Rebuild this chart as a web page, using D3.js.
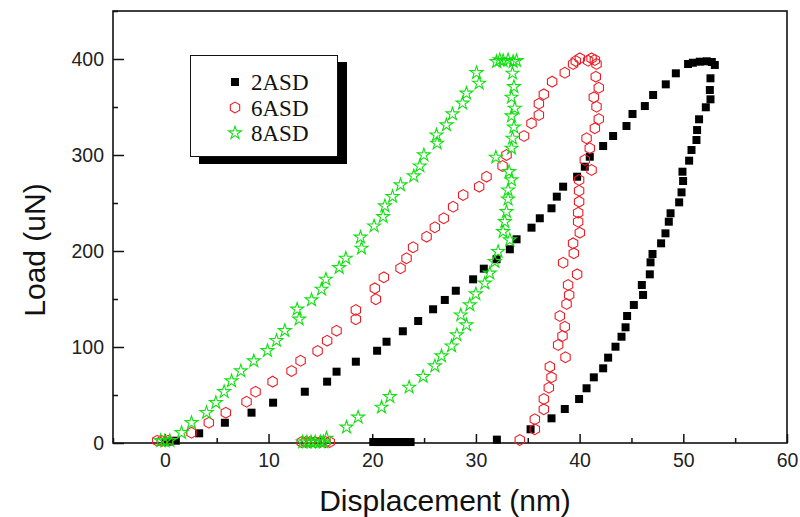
<!DOCTYPE html>
<html><head><meta charset="utf-8">
<script src="https://cdn.jsdelivr.net/npm/d3@7"></script>
<style>body{margin:0;background:#fff}svg{display:block}</style>
</head><body>
<svg id="c" width="800" height="517"></svg>
<script>
const seriesNames = ["2ASD", "6ASD", "8ASD"];
const xTicks = [0, 10, 20, 30, 40, 50, 60];
const yTicks = [0, 100, 200, 300, 400];
const xLabel = "Displacement (nm)";
const yLabel = "Load (uN)";

// 2ASD: loading, unloading, drift at zero
const data2ASD = [
[0.1,1],[0.5,1.5],[1.06,2.4],[3.31,10.1],[5.79,21.1],[8.36,31.6],[10.44,42],[13.5,53.4],[15.65,63.9],[16.56,74.3],
[18.42,84.7],[20.47,96.1],[21.38,105.5],[22.95,116.4],[24.43,127.1],[25.87,139.3],[27.0,149],[28.06,158.6],[29.73,170.5],
[30.76,181.6],[31.99,191.4],[33.27,201.8],[33.92,212.2],[35.36,224.3],[36.16,234.1],[37.29,244.5],[37.8,256.6],[38.41,267],
[39.76,277.4],[40.5,287.8],[40.98,298.2],[42.27,309.4],[43.23,319.8],[44.52,330.2],[45.1,342.7],[46.29,351],[47.09,362.5],
[48.31,373.6],[49.28,385.1],[50.46,394.8],[50.92,396.1],[51.59,397.2],[52.27,397.6],[52.75,396.9],[53.04,393.8],
[52.62,379.9],[52.56,367.7],[52.62,358],[52.17,349.7],[51.52,337.2],[51.33,326],[51.27,315.6],[50.79,305.2],[50.56,294.1],
[49.92,282.6],[49.98,272.9],[49.83,261.1],[49.6,250.7],[48.77,239.3],[48.6,230.5],[48.28,218.4],[47.86,208],[47.03,196.9],
[46.84,188.2],[46.77,175.7],[46,164.6],[46.12,154.2],[45.23,143.8],[44.58,132.3],[44.43,120.5],[44.04,110.7],[43.46,100.3],
[42.75,88.9],[42.27,77.8],[41.37,68.4],[40.67,57],[39.95,45.8],[38.57,35.4],[37.29,25.7],[35.27,14.3],[32.02,3.5],
[20.1,1],[20.5,1],[20.9,1],[21.3,1],[21.7,1],[22.1,1],[22.5,1],[22.9,1],[23.3,1],[23.7,1]
];

// 6ASD
const data6ASD = [
[-0.74,2.4],[-0.29,2.1],[0.32,2.4],[2.57,10.7],[4.24,21.1],[5.88,31.6],[7.88,43],[8.75,53.4],[10.39,63.9],[12.22,75],
[13.09,85.7],[14.73,95.8],[15.65,106.6],[16.56,117],[18.42,128.9],[18.42,138.5],[20.35,149.7],[20.25,161.1],[21.12,172.6],
[22.73,182],[23.31,192.4],[23.94,203.9],[25.24,214.9],[26.04,224.7],[26.9,234.1],[27.8,246.1],[28.77,258.3],[30.31,267],
[31.02,277.4],[32.57,288.5],[32.95,300],[34.64,319.8],[35.36,333],[36.07,341.7],[36.07,353.4],[36.55,363.2],[37.35,376.4],
[38.57,385.7],[39.37,394.8],[39.63,397.9],[40.02,400.7],[40.82,398.2],[41.15,400.7],[41.47,399],[41.63,394.8],
[41.56,381.6],[41.85,370.1],[41.37,360.1],[41.63,350.3],[41.85,337.5],[41.47,327.8],[40.67,317.4],[40.98,307],[40.5,294.8],
[41.15,284.4],[39.95,274],[39.95,262.8],[39.95,251.4],[39.86,239.9],[39.86,230.5],[40.02,219.1],[39.37,208],[39.44,197.6],
[38.41,187.8],[39.76,175.7],[38.89,164.6],[38.99,154.2],[38.74,144.8],[38.09,132.3],[38.57,121.1],[38.35,111.5],[37.93,102.1],
[38.64,89.3],[37.13,79.5],[37.29,68.4],[37.03,57.6],[36.55,45.8],[36.55,35.1],[35.68,24.7],[35.68,14.3],[34.23,3.1],
[13.2,1],[13.6,1],[14.0,1],[14.5,1],[15.0,1],[15.5,1],[15.9,1]
];

// 8ASD
const data8ASD = [
[-0.41,2.4],[0,2.1],[0.48,2.4],[1.61,10.7],[2.57,21.1],[4.02,31.6],[4.92,42],[5.72,53.4],[6.43,64.6],[7.33,75],[8.58,85.4],
[9.9,96.1],[10.77,106.6],[11.57,117],[12.95,128.9],[12.76,139.3],[14.15,149],[15.11,160.1],[15.53,170.5],[16.81,182.6],
[17.45,192.4],[18.97,202.8],[18.87,214.3],[20.18,226],[21.05,235.7],[21.22,246.9],[21.96,256.6],[22.73,268.8],[24.01,278.1],
[24.59,288.5],[24.98,300],[26.26,312.2],[26.2,320.8],[27.16,331.3],[27.74,342.7],[28.71,353.9],[29.09,364.3],[30.31,374.7],
[30.06,385.7],[31.99,397.2],[32.3,399],[32.62,398.2],[33.1,399],[33.59,397.2],[33.92,398.2],
[33.53,385.1],[33.66,371.1],[33.43,360.1],[33.75,348.6],[33.43,340.6],[33.66,328.9],[33.53,317.4],[33.43,307],[31.92,297.6],
[33.2,282.6],[33.43,274],[33.1,263.5],[33.1,253.9],[32.95,240.9],[32.79,230.5],[32.62,220.1],[33.27,211.5],[32.14,199.3],
[31.82,188.9],[31.34,176.8],[30.86,166.4],[29.99,155.2],[29.41,143.8],[28.54,133.3],[29.09,122.9],[28.16,112.5],[27.65,101],
[26.68,90.6],[26.04,80.2],[24.91,69.1],[23.56,58],[21.7,48.2],[20.9,37.2],[18.64,26.8],[17.52,16.4],[15.59,4.9],
[13.3,1],[13.7,1],[14.1,1],[14.5,1],[15.0,1],[15.3,1]
];

const svg = d3.select("#c");
const x = d3.scaleLinear().domain([-5, 60]).range([113, 787]);
const y = d3.scaleLinear().domain([0, 450]).range([443, 11]);

const RED = "#ee1c24", GREEN = "#11e011";

function hexPath(r) {
  const pts = d3.range(6).map(i => {
    const a = Math.PI / 2 + i * Math.PI / 3;
    return [r * Math.cos(a), r * Math.sin(a)];
  });
  return "M" + pts.map(p => p.join(",")).join("L") + "Z";
}
const squareSym = d3.symbol().type(d3.symbolSquare).size(64)();
const starSym = d3.symbol().type(d3.symbolStar).size(52)();
const hexSym = hexPath(5.4);

// axes (inward ticks)
const gx = svg.append("g").attr("transform", `translate(0,${y(0)})`);
gx.call(d3.axisBottom(x).tickValues(d3.range(-5, 61, 5).filter(v => v % 10 !== 0)).tickSize(-5).tickFormat(""));
const gx2 = svg.append("g").attr("transform", `translate(0,${y(0)})`);
gx2.call(d3.axisBottom(x).tickValues(xTicks).tickSize(-9).tickPadding(20).tickFormat(d3.format("d")));
const gy = svg.append("g").attr("transform", `translate(${x(-5)},0)`);
gy.call(d3.axisLeft(y).tickValues(d3.range(50, 451, 100)).tickSize(-5).tickFormat(""));
const gy2 = svg.append("g").attr("transform", `translate(${x(-5)},0)`);
gy2.call(d3.axisLeft(y).tickValues(yTicks).tickSize(-11).tickPadding(22).tickFormat(d3.format("d")));
svg.selectAll(".domain").remove();
svg.selectAll(".tick line").attr("stroke", "#111").attr("stroke-width", 1.5);
svg.selectAll(".tick text").attr("font-family", "Liberation Sans, Arial, sans-serif").attr("font-size", 19.5).attr("fill", "#222");
gx2.selectAll(".tick text").attr("dy", "0.2em");
gy2.selectAll(".tick text").attr("dx", "13").attr("dy", "0.35em");

// frame
svg.append("rect").attr("x", x(-5)).attr("y", y(450)).attr("width", x(60) - x(-5)).attr("height", y(0) - y(450))
  .attr("fill", "none").attr("stroke", "#111").attr("stroke-width", 1.6);

// data
function drawSeries(data, kind) {
  const g = svg.append("g");
  const sel = g.selectAll("path").data(data).enter().append("path")
    .attr("transform", d => `translate(${x(d[0])},${y(d[1])})`);
  if (kind === 0) sel.attr("d", squareSym).attr("fill", "#000");
  if (kind === 1) sel.attr("d", hexSym).attr("fill", "none").attr("stroke", RED).attr("stroke-width", 1.1);
  if (kind === 2) sel.attr("d", starSym).attr("fill", "none").attr("stroke", GREEN).attr("stroke-width", 1.1);
}
drawSeries(data2ASD, 0);
drawSeries(data6ASD, 1);
drawSeries(data8ASD, 2);

// legend
svg.append("rect").attr("x", 199).attr("y", 62).attr("width", 148).attr("height", 102).attr("fill", "#000");
svg.append("rect").attr("x", 190.5).attr("y", 55.5).attr("width", 147).attr("height", 101).attr("fill", "#fff").attr("stroke", "#111").attr("stroke-width", 1);
const legSyms = [squareSym, hexSym, starSym];
seriesNames.forEach((n, i) => {
  const cy = 82 + i * 25.5;
  const p = svg.append("path").attr("d", legSyms[i]).attr("transform", `translate(235,${cy})`);
  if (i === 0) p.attr("fill", "#000");
  if (i === 1) p.attr("fill", "none").attr("stroke", RED).attr("stroke-width", 1.1);
  if (i === 2) p.attr("fill", "none").attr("stroke", GREEN).attr("stroke-width", 1.1);
  svg.append("text").attr("x", 251).attr("y", cy + 8).text(n)
    .attr("font-family", "Liberation Serif, Times New Roman, serif").attr("font-size", 23).attr("fill", "#111");
});

// axis titles
svg.append("text").attr("x", 445).attr("y", 511).attr("text-anchor", "middle").text(xLabel)
  .attr("font-family", "Liberation Sans, Arial, sans-serif").attr("font-size", 30).attr("fill", "#111");
svg.append("text").attr("transform", "translate(45,250) rotate(-90)").attr("text-anchor", "middle").text(yLabel)
  .attr("font-family", "Liberation Sans, Arial, sans-serif").attr("font-size", 30).attr("fill", "#111");
</script>
</body></html>
